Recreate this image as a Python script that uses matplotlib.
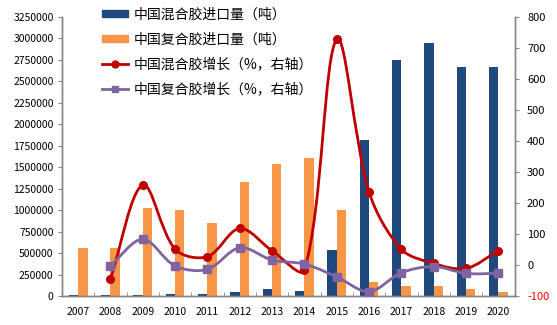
import numpy as np
import matplotlib
matplotlib.use('Agg')
import matplotlib.pyplot as plt
from matplotlib.path import Path
from matplotlib.patches import PathPatch, Patch
from matplotlib.lines import Line2D

plt.rcParams['font.family'] = ['Noto Sans CJK SC', 'DejaVu Sans']
plt.rcParams['axes.unicode_minus'] = False

years = ['2007', '2008', '2009', '2010', '2011', '2012', '2013',
         '2014', '2015', '2016', '2017', '2018', '2019', '2020']
mixed_import = [10000, 10000, 15000, 25000, 25000, 50000, 85000,
                58000, 536000, 1817000, 2750000, 2951000, 2668000, 2668000]
compound_import = [562000, 562000, 1028000, 1002000, 854000, 1331000, 1538000,
                   1604000, 1002000, 167000, 117000, 117000, 85000, 50000]
# growth series start in 2008
mixed_growth = [-45, 258, 51, 27, 118, 46, -16, 728, 236, 51, 5, -11, 46]
compound_growth = [-2, 83, -3, -14, 56, 16, 3, -38, -86, -25, -5, -27, -27]

labels = ['中国混合胶进口量（吨）', '中国复合胶进口量（吨）',
          '中国混合胶增长（%，右轴）', '中国复合胶增长（%，右轴）']

navy = '#1F497D'
orange = '#F79646'
red = '#C00000'
purple = '#8064A2'
gray = '#868686'


def smooth_path(x, y, sx, sy, f=1/3.0):
    """平滑曲线：经过各点的三次贝塞尔（按弦长缩放控制点）"""
    px = np.asarray(x, float) * sx
    py = np.asarray(y, float) * sy
    n = len(px)
    verts = [(px[0], py[0])]
    codes = [Path.MOVETO]
    for i in range(n - 1):
        i0 = max(i - 1, 0)
        i3 = min(i + 2, n - 1)
        d01 = np.hypot(px[i] - px[i0], py[i] - py[i0])
        d12 = np.hypot(px[i + 1] - px[i], py[i + 1] - py[i])
        d23 = np.hypot(px[i3] - px[i + 1], py[i3] - py[i + 1])
        if i == 0:
            tx1, ty1, k1 = px[1] - px[0], py[1] - py[0], f
        else:
            tx1, ty1 = px[i + 1] - px[i0], py[i + 1] - py[i0]
            k1 = f * d12 / (d01 + d12)
        c1 = (px[i] + tx1 * k1, py[i] + ty1 * k1)
        if i + 1 == n - 1:
            tx2, ty2, k2 = px[i + 1] - px[i], py[i + 1] - py[i], f
        else:
            tx2, ty2 = px[i3] - px[i], py[i3] - py[i]
            k2 = f * d12 / (d12 + d23)
        c2 = (px[i + 1] - tx2 * k2, py[i + 1] - ty2 * k2)
        verts += [c1, c2, (px[i + 1], py[i + 1])]
        codes += [Path.CURVE4] * 3
    verts = [(vx / sx, vy / sy) for vx, vy in verts]
    return Path(verts, codes)


fig = plt.figure(figsize=(5.57, 3.25), dpi=100)
ax = fig.add_axes([0.1113, 0.0892, 0.8124, 0.8585])
ax2 = ax.twinx()

x = np.arange(len(years))
w = 0.29
ax.bar(x - w / 2, mixed_import, w, color=navy, zorder=2)
ax.bar(x + w / 2, compound_import, w, color=orange, zorder=2)

ax.set_xlim(-0.5, len(years) - 0.5)
ax.set_ylim(0, 3250000)
ax.set_yticks(np.arange(0, 3250001, 250000))
ax.set_yticklabels([str(v) for v in range(0, 3250001, 250000)])
ax.set_xticks(x)
ax.set_xticklabels(years)
ax.set_xticks(np.arange(-0.5, len(years), 1), minor=True)
ax.tick_params(axis='x', which='major', length=0, labelsize=7.5, pad=8)
ax.tick_params(axis='x', which='minor', direction='in', length=3, color=gray)
ax.tick_params(axis='y', direction='out', length=3, color=gray, labelsize=7.5, pad=3)

ax2.set_ylim(-100, 800)
ax2.set_yticks(np.arange(-100, 801, 100))
ax2.tick_params(axis='y', direction='out', length=3, color=gray, labelsize=8, pad=6)
ax2.get_yticklabels()[0].set_color('#FF0000')

for a in (ax, ax2):
    a.spines['top'].set_visible(False)
    for s in ('left', 'right', 'bottom'):
        a.spines[s].set_color(gray)
        a.spines[s].set_linewidth(1)

# 像素比例，用于平滑
sx = 32.4
sy = 0.31
xg = x[1:]
for vals, col, mk in ((mixed_growth, red, 'o'), (compound_growth, purple, 's')):
    p = smooth_path(xg, vals, sx, sy)
    ax2.add_patch(PathPatch(p, facecolor='none', edgecolor=col, lw=2.0, zorder=3,
                            capstyle='round', joinstyle='round'))
    ax2.plot(xg, vals, linestyle='none', marker=mk, color=col, markersize=5.5, zorder=4)

handles = [Patch(color=navy), Patch(color=orange),
           Line2D([], [], color=red, lw=2.0, marker='o', markersize=5),
           Line2D([], [], color=purple, lw=2.0, marker='s', markersize=5)]
fig.legend(handles, labels, loc='upper left', bbox_to_anchor=(0.183, 0.977),
           frameon=False, fontsize=10, handlelength=1.9, handleheight=0.45,
           handletextpad=0.35, labelspacing=0.78, borderpad=0, borderaxespad=0)

fig.savefig('out.png', dpi=100)
